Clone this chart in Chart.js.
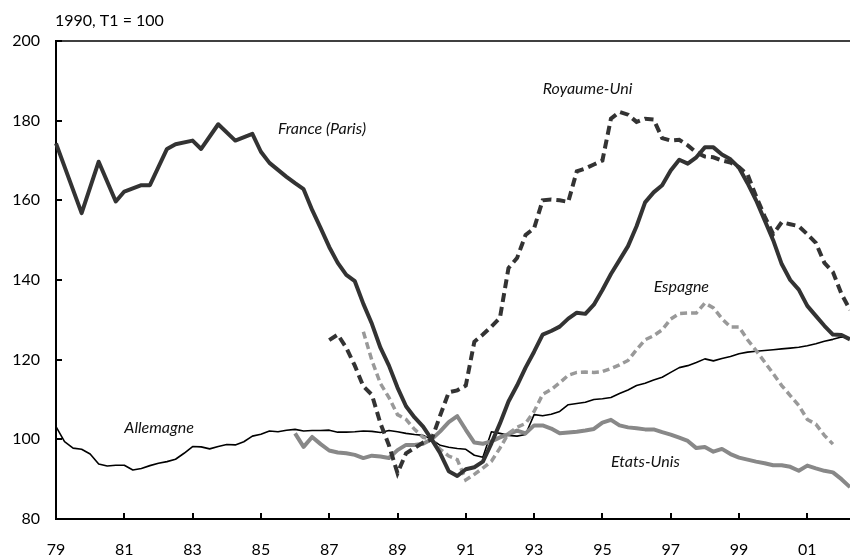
<!DOCTYPE html>
<html><head><meta charset="utf-8">
<script src="https://cdn.jsdelivr.net/npm/chart.js@4.4.1/dist/chart.umd.min.js"></script>
<style>html,body{margin:0;padding:0;background:#fff;}#wrap{width:850px;height:558px;}</style>
</head><body><div id="wrap"><canvas id="c" width="850" height="558"></canvas></div>
<script>
// Quarterly categories 1979T1 .. 2002T2
const quarterLabels = [];
for (let y = 1979; y <= 2002; y++) {
  for (let q = 1; q <= 4; q++) {
    if (y === 2002 && q > 2) break;
    quarterLabels.push(y + 'T' + q);
  }
}
const xTickQuarters = ['1979T1','1981T1','1983T1','1985T1','1987T1','1989T1','1991T1','1993T1','1995T1','1997T1','1999T1','2001T1'];
const xTickLabels = ['79','81','83','85','87','89','91','93','95','97','99','01'];
const yTickValues = [80,100,120,140,160,180,200];
const axisTitle = '1990, T1 = 100';

// France (Paris), from 1979T1 (null = no point shown, line spans)
const franceValues = [
  174.3, null, null, 156.8,
  null, 169.7, null, 159.7,
  162.2, null, 163.8, 163.8,
  null, 172.9, 174.1, null,
  175.0, 172.9, null, 179.1,
  null, 175.0, null, 176.7,
  172.2, 169.4, null, 165.9,
  164.3, 162.8, 157.6, 153.0,
  148.3, 144.3, 141.3, 139.7,
  134.0, 129.0, 123.0, 118.5,
  113.0, 108.3, 105.5, 103.2,
  100.0, 96.5, 92.0, 90.8,
  92.5, 93.0, 94.4, 99.0,
  104.0, 109.5, 113.5, 118.0,
  122.0, 126.3, 127.2, 128.3,
  130.3, 131.8, 131.5, 133.8,
  137.5, 141.5, 145.0, 148.5,
  153.5, 159.5, 162.0, 163.8,
  167.5, 170.2, 169.2, 170.8,
  173.3, 173.3, 171.5, 170.3,
  168.2, 164.3, 160.0, 155.0,
  150.0, 144.0, 140.0, 137.6,
  133.5, 131.0, 128.5, 126.3,
  126.2, 125.1
];
// Royaume-Uni, from 1987T1
const ukStart = '1987T1';
const ukValues = [
  124.9, 126.3, 123.0, 118.5,
  113.3, 111.2, 104.0, 98.5,
  91.5, 96.5, 97.8, 99.2,
  100.0, 106.0, 111.8, 112.3,
  113.5, 124.5, 126.3, 128.3,
  130.5, 143.0, 145.5, 151.3,
  153.0, 160.0, 160.2, 160.0,
  159.6, 167.3, 168.0, 169.0,
  170.0, 180.5, 182.2, 181.5,
  179.7, 180.5, 180.3, 175.6,
  175.0, 175.2, 173.8, 172.0,
  171.0, 170.8, 170.0, 169.5,
  168.3, 166.5, 161.0, 156.0,
  151.5, 154.5, 154.0, 153.5,
  151.5, 149.3, 144.3, 142.0,
  136.5, 132.5
];
// Espagne, from 1988T1
const spainStart = '1988T1';
const spainValues = [
  127.0, 119.8, 114.0, 110.5,
  106.2, 105.0, 102.5, 100.5,
  100.0, 97.5, 95.8, 94.9,
  89.8, 91.2, 92.8, 94.5,
  97.8, 101.5, 103.0, 104.0,
  107.0, 111.3, 112.5, 114.2,
  116.1, 116.8, 116.9, 116.8,
  117.0, 117.8, 118.7, 119.8,
  122.5, 125.0, 126.0, 127.5,
  130.2, 131.6, 131.7, 131.7,
  134.2, 133.0, 130.3, 128.2,
  128.2, 125.0, 122.3, 119.4,
  116.5, 113.5, 111.0, 108.5,
  105.0, 103.8, 101.0, 98.8
];
// Allemagne, from 1979T1
const germanyValues = [
  103.2, 99.4, 97.8, 97.5,
  96.3, 93.8, 93.3, 93.5,
  93.5, 92.3, 92.7, 93.4,
  94.0, 94.4, 95.0, 96.5,
  98.2, 98.1, 97.6, 98.2,
  98.7, 98.6, 99.4, 100.8,
  101.3, 102.1, 101.9, 102.3,
  102.5, 102.1, 102.2, 102.2,
  102.3, 101.8, 101.8, 101.9,
  102.1, 102.0, 101.7, 102.2,
  101.9, 101.5, 101.2, 101.0,
  100.0, 98.5, 98.0, 97.7,
  97.5, 96.0, 95.5, 101.9,
  101.5, 101.0, 100.8, 101.2,
  106.2, 105.9, 106.3, 107.0,
  108.7, 109.0, 109.3, 110.0,
  110.2, 110.5, 111.5, 112.4,
  113.5, 114.1, 114.9, 115.6,
  116.8, 118.0, 118.5, 119.3,
  120.2, 119.7, 120.3, 120.8,
  121.5, 121.9, 122.1, 122.3,
  122.5, 122.7, 122.9, 123.1,
  123.5, 124.0, 124.6, 125.1,
  125.7, 125.4
];
// Etats-Unis, from 1986T1
const usStart = '1986T1';
const usValues = [
  101.5, 98.1, 100.6, 98.8,
  97.2, 96.7, 96.5, 96.1,
  95.3, 95.9, 95.7, 95.3,
  97.3, 98.6, 98.6, 98.9,
  100.0, 102.0, 104.3, 105.8,
  102.4, 99.2, 98.9, 99.5,
  100.5, 101.3, 102.2, 101.5,
  103.5, 103.5, 102.7, 101.5,
  101.7, 101.9, 102.2, 102.6,
  104.2, 104.9, 103.5, 103.0,
  102.8, 102.5, 102.5, 101.8,
  101.2, 100.4, 99.6, 97.8,
  98.1, 96.9, 97.6, 96.3,
  95.4, 94.9, 94.4, 94.0,
  93.5, 93.5, 93.1, 92.1,
  93.4, 92.7, 92.1, 91.7,
  90.0, 88.0
];

const seriesLabels = [
  {text: 'France (Paris)', at: '1985T3', value: 178},
  {text: 'Royaume-Uni', at: '1993T2', value: 188},
  {text: 'Espagne', at: '1996T3', value: 138.3},
  {text: 'Allemagne', at: '1981T1', value: 102.9},
  {text: 'Etats-Unis', at: '1995T2', value: 94.4}
];

function place(start, values) {
  const out = new Array(quarterLabels.length).fill(null);
  const s = quarterLabels.indexOf(start);
  values.forEach((v, i) => { out[s + i] = v; });
  return out;
}

const FONT = 'Lato, "Open Sans", sans-serif';

const decorPlugin = {
  id: 'decor',
  afterDraw(chart) {
    const ctx = chart.ctx;
    const a = chart.chartArea;
    const xs = chart.scales.x, ys = chart.scales.y;
    ctx.save();
    ctx.strokeStyle = '#000';
    // top border
    ctx.lineWidth = 1.5;
    ctx.beginPath(); ctx.moveTo(a.left, a.top); ctx.lineTo(a.right, a.top); ctx.stroke();
    // inner ticks
    ctx.lineWidth = 2;
    xTickQuarters.forEach(q => {
      const px = Math.round(xs.getPixelForValue(quarterLabels.indexOf(q)));
      ctx.beginPath(); ctx.moveTo(px, a.bottom); ctx.lineTo(px, a.bottom - 6); ctx.stroke();
    });
    yTickValues.forEach(v => {
      const py = Math.round(ys.getPixelForValue(v));
      ctx.beginPath(); ctx.moveTo(a.left, py); ctx.lineTo(a.left + 6, py); ctx.stroke();
    });
    // axis title
    ctx.fillStyle = '#000';
    ctx.font = '16px ' + FONT;
    ctx.textBaseline = 'middle';
    ctx.textAlign = 'left';
    ctx.fillText(axisTitle, a.left - 1, 21);
    // series labels
    ctx.font = 'italic 16px ' + FONT;
    ctx.fillStyle = '#111';
    seriesLabels.forEach(l => {
      ctx.fillText(l.text, xs.getPixelForValue(quarterLabels.indexOf(l.at)), ys.getPixelForValue(l.value));
    });
    ctx.restore();
  }
};

new Chart(document.getElementById('c'), {
  type: 'line',
  data: {
    labels: quarterLabels,
    datasets: [
      {label: 'France (Paris)', data: franceValues, borderColor: '#333', borderWidth: 4, spanGaps: true, borderJoinStyle: 'round'},
      {label: 'Royaume-Uni', data: place(ukStart, ukValues), borderColor: '#333', borderWidth: 4, borderDash: [9, 5]},
      {label: 'Espagne', data: place(spainStart, spainValues), borderColor: '#999', borderWidth: 3.5, borderDash: [7, 4]},
      {label: 'Etats-Unis', data: place(usStart, usValues), borderColor: '#888', borderWidth: 4, borderJoinStyle: 'round'},
      {label: 'Allemagne', data: germanyValues, borderColor: '#000', borderWidth: 1.6, borderJoinStyle: 'round'}
    ]
  },
  options: {
    responsive: false,
    animation: false,
    devicePixelRatio: 1,
    layout: {padding: {top: 41, right: 0, left: 0, bottom: 0}},
    elements: {point: {radius: 0, hoverRadius: 0}, line: {tension: 0, fill: false}},
    plugins: {legend: {display: false}, tooltip: {enabled: false}},
    scales: {
      x: {
        type: 'category',
        offset: false,
        grid: {display: false, drawTicks: false},
        border: {display: true, color: '#000', width: 2},
        afterBuildTicks(scale) {
          scale.ticks = xTickQuarters.map(q => ({value: quarterLabels.indexOf(q)}));
        },
        afterFit(scale) { scale.height = 39; },
        ticks: {
          autoSkip: false, maxRotation: 0, padding: 21, color: '#000',
          font: {family: FONT, size: 16},
          callback(value) { return xTickLabels[xTickQuarters.indexOf(quarterLabels[value])]; }
        }
      },
      y: {
        min: 80, max: 200,
        grid: {display: false, drawTicks: false},
        border: {display: true, color: '#000', width: 2},
        afterBuildTicks(scale) { scale.ticks = yTickValues.map(v => ({value: v})); },
        afterFit(scale) { scale.width = 56; },
        ticks: {padding: 16, color: '#000', font: {family: FONT, size: 16}}
      }
    }
  },
  plugins: [decorPlugin]
});
</script>
</body></html>
